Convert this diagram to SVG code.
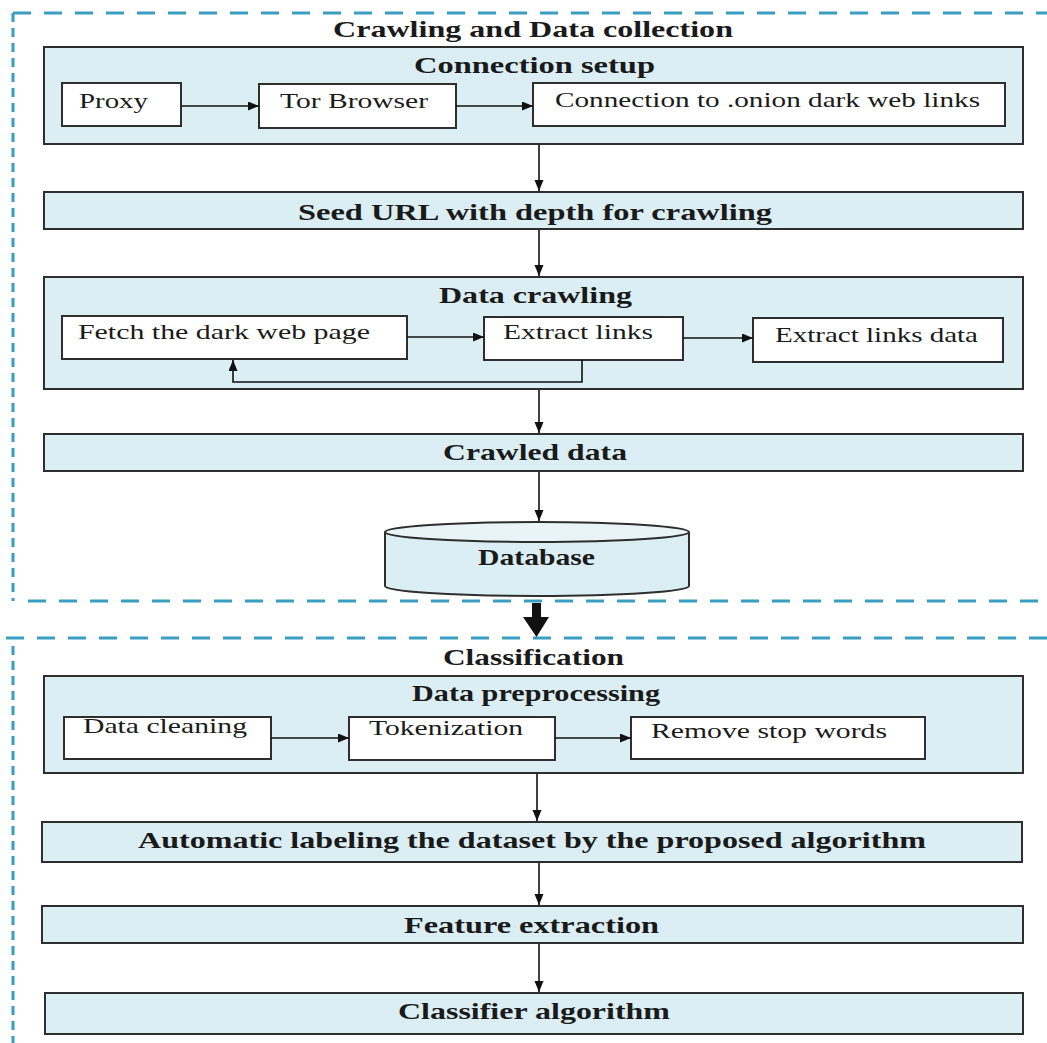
<svg xmlns="http://www.w3.org/2000/svg" width="1047" height="1043" viewBox="0 0 1047 1043">
<style>
.panel{fill:#dbeef4;stroke:#2e2e2e;stroke-width:2}
.box{fill:#ffffff;stroke:#2e2e2e;stroke-width:2}
.t{font-family:"Liberation Serif","Times New Roman",serif;font-size:22px;fill:#1a1a1a}
.b{font-family:"Liberation Serif","Times New Roman",serif;font-size:24px;font-weight:bold;fill:#1a1a1a}
.c{fill:none;stroke:#111;stroke-width:1.6}
.dh{fill:none;stroke:#3a9ec2;stroke-width:3;stroke-dasharray:18 13}
.dv{fill:none;stroke:#3a9ec2;stroke-width:3;stroke-dasharray:9 6}
</style>
<defs>
<marker id="ah" markerUnits="userSpaceOnUse" markerWidth="12" markerHeight="10" refX="11" refY="4.5" orient="auto">
<path d="M0,0 L11,4.5 L0,9 z" fill="#111"/>
</marker>
</defs>
<rect width="1047" height="1043" fill="#ffffff"/>

<g id="frames">
<line class="dh" x1="13" y1="13" x2="1047" y2="13"/>
<line class="dv" x1="13" y1="13" x2="13" y2="601"/>
<line class="dh" x1="28" y1="601" x2="1047" y2="601"/>
<line class="dh" x1="6" y1="638" x2="1047" y2="638"/>
<line class="dv" x1="13" y1="646" x2="13" y2="1043"/>
<text class="b" x="333" y="37" textLength="400" lengthAdjust="spacingAndGlyphs">Crawling and Data collection</text>
<text class="b" x="443" y="665" textLength="181" lengthAdjust="spacingAndGlyphs">Classification</text>
</g>

<g id="connection-setup">
<rect class="panel" x="44" y="47" width="979" height="97"/>
<text class="b" x="414" y="73" textLength="241" lengthAdjust="spacingAndGlyphs">Connection setup</text>
</g>
<g id="proxy">
<rect class="box" x="62" y="83" width="119" height="43"/>
<text class="t" x="79" y="108" textLength="69" lengthAdjust="spacingAndGlyphs">Proxy</text>
</g>
<g id="tor-browser">
<rect class="box" x="259" y="84" width="197" height="44"/>
<text class="t" x="280" y="108" textLength="148" lengthAdjust="spacingAndGlyphs">Tor Browser</text>
</g>
<g id="onion-connection">
<rect class="box" x="533" y="83" width="472" height="43"/>
<text class="t" x="555" y="107" textLength="425" lengthAdjust="spacingAndGlyphs">Connection to .onion dark web links</text>
</g>

<g id="seed-url">
<rect class="panel" x="44" y="192" width="979" height="37"/>
<text class="b" x="298" y="220" textLength="474" lengthAdjust="spacingAndGlyphs">Seed URL with depth for crawling</text>
</g>

<g id="data-crawling">
<rect class="panel" x="44" y="277" width="979" height="112"/>
<text class="b" x="439" y="303" textLength="193" lengthAdjust="spacingAndGlyphs">Data crawling</text>
</g>
<g id="fetch-page">
<rect class="box" x="62" y="316" width="345" height="43"/>
<text class="t" x="78" y="339" textLength="292" lengthAdjust="spacingAndGlyphs">Fetch the dark web page</text>
</g>
<g id="extract-links">
<rect class="box" x="484" y="317" width="199" height="43"/>
<text class="t" x="503" y="339" textLength="150" lengthAdjust="spacingAndGlyphs">Extract links</text>
</g>
<g id="extract-links-data">
<rect class="box" x="753" y="318" width="250" height="44"/>
<text class="t" x="775" y="342" textLength="203" lengthAdjust="spacingAndGlyphs">Extract links data</text>
</g>

<g id="crawled-data">
<rect class="panel" x="44" y="434" width="979" height="37"/>
<text class="b" x="443" y="460" textLength="184" lengthAdjust="spacingAndGlyphs">Crawled data</text>
</g>

<g id="database">
<path d="M385,532 L385,586 A152,10 0 0 0 689,586 L689,532" fill="#dbeef4" stroke="#2e2e2e" stroke-width="2"/>
<ellipse cx="537" cy="532" rx="152" ry="10" fill="#e8f4f8" stroke="#2e2e2e" stroke-width="2"/>
<text class="b" x="478" y="565" textLength="117" lengthAdjust="spacingAndGlyphs">Database</text>
</g>

<g id="data-preprocessing">
<rect class="panel" x="44" y="676" width="979" height="97"/>
<text class="b" x="412" y="701" textLength="248" lengthAdjust="spacingAndGlyphs">Data preprocessing</text>
</g>
<g id="data-cleaning">
<rect class="box" x="64" y="717" width="207" height="42"/>
<text class="t" x="83" y="733" textLength="164" lengthAdjust="spacingAndGlyphs">Data cleaning</text>
</g>
<g id="tokenization">
<rect class="box" x="349" y="717" width="206" height="43"/>
<text class="t" x="369" y="735" textLength="154" lengthAdjust="spacingAndGlyphs">Tokenization</text>
</g>
<g id="remove-stop-words">
<rect class="box" x="631" y="717" width="294" height="42"/>
<text class="t" x="651" y="738" textLength="236" lengthAdjust="spacingAndGlyphs">Remove stop words</text>
</g>

<g id="automatic-labeling">
<rect class="panel" x="42" y="822" width="980" height="40"/>
<text class="b" x="138" y="848" textLength="788" lengthAdjust="spacingAndGlyphs">Automatic labeling the dataset by the proposed algorithm</text>
</g>

<g id="feature-extraction">
<rect class="panel" x="42" y="906" width="981" height="37"/>
<text class="b" x="404" y="933" textLength="255" lengthAdjust="spacingAndGlyphs">Feature extraction</text>
</g>

<g id="classifier-algorithm">
<rect class="panel" x="45" y="993" width="978" height="41"/>
<text class="b" x="398" y="1019" textLength="272" lengthAdjust="spacingAndGlyphs">Classifier algorithm</text>
</g>

<g id="connectors">
<line class="c" x1="181" y1="106" x2="259" y2="106" marker-end="url(#ah)"/>
<line class="c" x1="456" y1="106" x2="533" y2="106" marker-end="url(#ah)"/>
<line class="c" x1="539" y1="145" x2="539" y2="191" marker-end="url(#ah)"/>
<line class="c" x1="539" y1="230" x2="539" y2="276" marker-end="url(#ah)"/>
<line class="c" x1="407" y1="337" x2="484" y2="337" marker-end="url(#ah)"/>
<line class="c" x1="683" y1="338" x2="753" y2="338" marker-end="url(#ah)"/>
<polyline class="c" points="582,360 582,382 233,382 233,360" marker-end="url(#ah)"/>
<line class="c" x1="539" y1="390" x2="539" y2="433" marker-end="url(#ah)"/>
<line class="c" x1="539" y1="472" x2="539" y2="521" marker-end="url(#ah)"/>
<polygon points="532,603 541,603 541,617 549,617 536.5,637 523,617 532,617" fill="#111"/>
<line class="c" x1="271" y1="738" x2="349" y2="738" marker-end="url(#ah)"/>
<line class="c" x1="555" y1="738" x2="631" y2="738" marker-end="url(#ah)"/>
<line class="c" x1="537" y1="774" x2="537" y2="821" marker-end="url(#ah)"/>
<line class="c" x1="539" y1="863" x2="539" y2="905" marker-end="url(#ah)"/>
<line class="c" x1="539" y1="944" x2="539" y2="992" marker-end="url(#ah)"/>
</g>
</svg>
